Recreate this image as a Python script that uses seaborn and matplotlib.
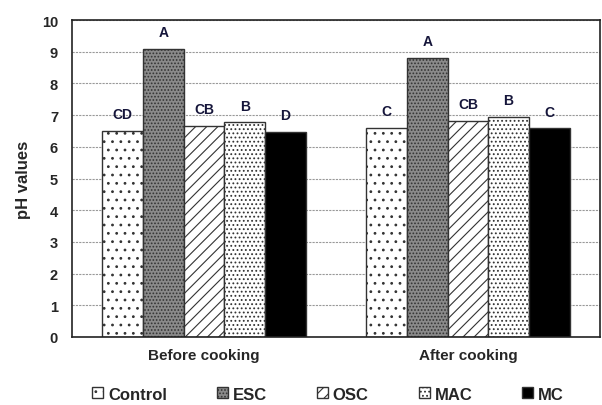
import numpy as np
import pandas as pd
import matplotlib
matplotlib.use('Agg')
import matplotlib.pyplot as plt
import seaborn as sns
from matplotlib.patches import Patch

# data
stages = ['Before cooking', 'After cooking']
treatments = ['Control', 'ESC', 'OSC', 'MAC', 'MC']
before = [6.50, 9.10, 6.66, 6.77, 6.47]
after = [6.60, 8.82, 6.81, 6.95, 6.58]
letters_before = ['CD', 'A', 'CB', 'B', 'D']
letters_after = ['C', 'A', 'CB', 'B', 'C']

df = pd.DataFrame({
    'Stage': [stages[0]] * 5 + [stages[1]] * 5,
    'Treatment': treatments * 2,
    'pH': before + after,
})

sns.set_style('white')
plt.rcParams['font.family'] = ['Liberation Sans', 'DejaVu Sans']
plt.rcParams['hatch.linewidth'] = 0.8

faces = ['white', '#8a8a8a', 'white', 'white', 'black']
hatches = ['..', '.....', '///', '....', '']

fig = plt.figure(figsize=(6.02, 4.06), dpi=100)
ax = fig.add_axes([0.1196, 0.1675, 0.877, 0.7805])

sns.barplot(data=df, x='Stage', y='pH', hue='Treatment', order=stages,
            hue_order=treatments, width=0.77, legend=False, ax=ax,
            edgecolor='#333333', linewidth=1.0, saturation=1)

for i, cont in enumerate(ax.containers):
    for bar in cont:
        bar.set_facecolor(faces[i])
        bar.set_hatch(hatches[i])
        bar.set_edgecolor('#333333')
    ax.bar_label(cont, labels=[letters_before[i], letters_after[i]], padding=7,
                 fontsize=10, fontweight='bold', color='#15153a')

ax.set_ylim(0, 10)
ax.set_xlim(-0.5, 1.5)
ax.set_yticks(range(0, 11))
ax.yaxis.grid(True, linestyle=(0, (2, 1)), color='#999999', linewidth=0.8)
ax.set_axisbelow(True)
for s in ax.spines.values():
    s.set_color('#222222')
    s.set_linewidth(1.2)
ax.tick_params(axis='both', length=0, labelsize=10.5)
for t in ax.get_yticklabels() + ax.get_xticklabels():
    t.set_fontweight('bold')
ax.tick_params(axis='x', pad=8, labelsize=11)
ax.tick_params(axis='y', pad=10)
ax.set_xlabel('')
ax.set_ylabel('pH values', fontsize=12, fontweight='bold', labelpad=8)

handles = [Patch(facecolor=faces[i], hatch=hatches[i], edgecolor='#333333',
                 label=treatments[i]) for i in range(5)]
fig.legend(handles=handles, loc='center', bbox_to_anchor=(0.545, 0.027), ncol=5,
           frameon=False, handlelength=0.65, handleheight=0.65, handletextpad=0.3,
           columnspacing=3.0, prop={'weight': 'bold', 'size': 12})

fig.savefig('out.png', dpi=100)
